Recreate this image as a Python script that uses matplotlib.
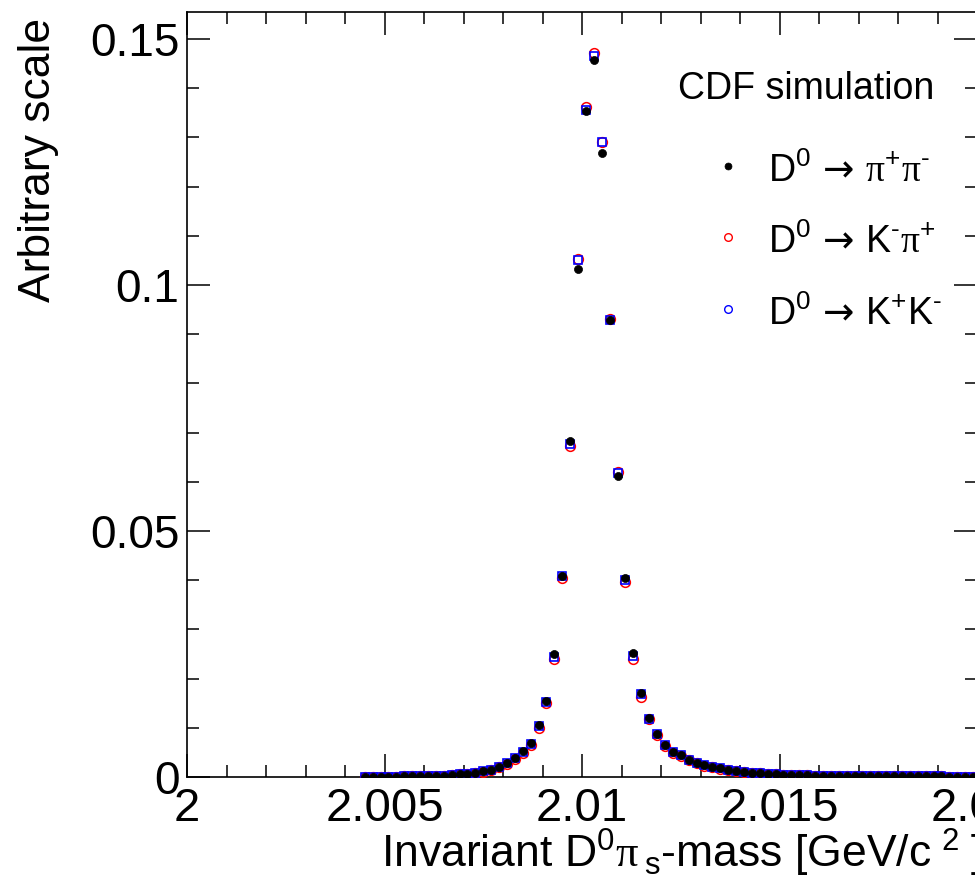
import numpy as np
import matplotlib
matplotlib.use("Agg")
import matplotlib.pyplot as plt

plt.rcParams['font.family'] = ['Liberation Sans', 'DejaVu Sans']
plt.rcParams['mathtext.fontset'] = 'custom'
plt.rcParams['mathtext.rm'] = 'Liberation Sans'
plt.rcParams['mathtext.it'] = 'Liberation Sans:italic'
plt.rcParams['mathtext.bf'] = 'Liberation Serif'
plt.rcParams['mathtext.sf'] = 'DejaVu Sans'

# ---- data ----
bin_first_center = 2.0045
bin_width = 0.0002

kk = [0.0001, 0.0001, 0.0001, 0.0001, 0.0001, 0.00012, 0.00015, 0.0002, 0.00022, 0.00028, 0.0003, 0.0004,
      0.00055, 0.0007, 0.0009, 0.0012, 0.0014, 0.0021, 0.0028, 0.0038, 0.0051, 0.0068,
      0.0103, 0.0153, 0.0243, 0.0409, 0.0677, 0.1051, 0.1356, 0.1465, 0.1291, 0.0929, 0.0618, 0.0400, 0.0246, 0.0168, 0.0118,
      0.0087, 0.0065, 0.0051, 0.0045, 0.0035, 0.0029, 0.0024, 0.0021, 0.0018, 0.0014, 0.0012, 0.0010, 0.0009, 0.00075,
      0.0006, 0.0006, 0.0005, 0.0005, 0.0004, 0.0004, 0.0003, 0.0003, 0.0003, 0.0003,
      0.00025, 0.00025, 0.0002, 0.0002, 0.0002, 0.0002, 0.0002, 0.00018, 0.00015, 0.00015, 0.00015, 0.00012, 0.00012,
      0.0001, 0.0001, 0.0001, 0.0001]

kpi = [0.0001, 0.0001, 0.0001, 0.0001, 0.0001, 0.00012, 0.00015, 0.0002, 0.00022, 0.00027, 0.0003, 0.0004,
       0.00052, 0.0007, 0.0009, 0.0011, 0.0014, 0.0020, 0.0027, 0.0037, 0.0049, 0.0066,
       0.0100, 0.0150, 0.0240, 0.0405, 0.0673, 0.1052, 0.1362, 0.1472, 0.1290, 0.0931, 0.0620, 0.0397, 0.0240, 0.0163, 0.0117,
       0.0085, 0.0063, 0.0049, 0.0043, 0.0034, 0.0028, 0.0023, 0.0020, 0.0017, 0.0014, 0.0012, 0.0010, 0.0009, 0.00075,
       0.0006, 0.0006, 0.0005, 0.0005, 0.0004, 0.0004, 0.0003, 0.0003, 0.0003, 0.0003,
       0.00025, 0.00025, 0.0002, 0.0002, 0.0002, 0.0002, 0.0002, 0.00018, 0.00015, 0.00015, 0.00015, 0.00012, 0.00012,
       0.0001, 0.0001, 0.0001, 0.0001]

pipi = [0.0001, 0.0001, 0.0001, 0.0001, 0.0001, 0.00012, 0.00015, 0.0002, 0.00022, 0.00028, 0.0003, 0.0004,
        0.00055, 0.0007, 0.0009, 0.0012, 0.0014, 0.0021, 0.0028, 0.0038, 0.0052, 0.0069,
        0.0106, 0.0155, 0.0250, 0.0409, 0.0682, 0.1033, 0.1354, 0.1457, 0.1268, 0.0929, 0.0612, 0.0404, 0.0253, 0.0170, 0.0119,
        0.0088, 0.0065, 0.0051, 0.0045, 0.0035, 0.0029, 0.0024, 0.0021, 0.0018, 0.0014, 0.0012, 0.0010, 0.0009, 0.00075,
        0.0006, 0.0006, 0.0005, 0.0005, 0.0004, 0.0004, 0.0003, 0.0003, 0.0003, 0.0003,
        0.00025, 0.00025, 0.0002, 0.0002, 0.0002, 0.0002, 0.0002, 0.00018, 0.00015, 0.00015, 0.00015, 0.00012, 0.00012,
        0.0001, 0.0001, 0.0001, 0.0001]

labels = [r'D$^{0}\,\mathsf{\rightarrow}\,\mathbf{\pi}^{+}\mathbf{\pi}^{\text{-}}$',
          r'D$^{0}\,\mathsf{\rightarrow}\,$K$^{\text{-}}\mathbf{\pi}^{+}$',
          r'D$^{0}\,\mathsf{\rightarrow}\,$K$^{+}$K$^{\text{-}}$']

x_ticks = [2.0, 2.005, 2.01, 2.015, 2.02]
x_ticklabels = ['2', '2.005', '2.01', '2.015', '2.02']
y_ticks = [0, 0.05, 0.1, 0.15]
y_ticklabels = ['0', '0.05', '0.1', '0.15']

x = bin_first_center + bin_width * np.arange(len(kk))

W, H = 975, 881
fig = plt.figure(figsize=(W / 100, H / 100), dpi=100)

def fx(px):
    return px / W

def fy(py):
    return 1 - py / H

ax = fig.add_axes([fx(187), fy(777), (977 - 187) / W, (777 - 12) / H])
ax.set_xlim(2.0, 2.02)
ax.set_ylim(0, 765 / 4920)

ax.plot(x, kpi, linestyle='none', marker='o', ms=7.0, mfc='none', mec='#ff0000', mew=1.1, zorder=3)
ax.plot(x, kk, linestyle='none', marker='s', ms=6.4, mfc='none', mec='#0000ff', mew=1.2, zorder=4)
ax.plot(x, pipi, linestyle='none', marker='o', ms=5.8, mfc='black', mec='black', mew=0.5, zorder=5)

ax.set_xticks(x_ticks)
ax.set_xticklabels(x_ticklabels)
ax.set_yticks(y_ticks)
ax.set_yticklabels(y_ticklabels)
ax.xaxis.set_minor_locator(matplotlib.ticker.MultipleLocator(0.001))
ax.yaxis.set_minor_locator(matplotlib.ticker.MultipleLocator(0.01))
ax.tick_params(which='both', direction='in', top=True, right=True, width=1.1, color='black')
ax.tick_params(which='major', length=16.5)
ax.tick_params(which='minor', length=8.5)
ax.tick_params(axis='x', which='major', pad=7, labelsize=34)
ax.tick_params(axis='y', which='major', pad=5.5, labelsize=33)
for s in ax.spines.values():
    s.set_linewidth(1.2)

# axis titles
fig.text(fx(981), fy(868),
         r'Invariant D$^{0}\mathbf{\pi}\,{}_{\mathrm{s}}$-mass [GeV/c$\;{}^{2}\;$]',
         ha='right', va='baseline', fontsize=32)
fig.text(fx(18), fy(18), 'Arbitrary scale', rotation=90, ha='right', va='top',
         fontsize=32, rotation_mode='anchor')

# legend
fig.text(fx(678), fy(99), 'CDF simulation', ha='left', va='baseline', fontsize=27)
leg_markers = [dict(marker='o', ms=5, mfc='black', mec='black', mew=0.5),
               dict(marker='o', ms=5.5, mfc='none', mec='#ff0000', mew=1.0),
               dict(marker='o', ms=5.5, mfc='none', mec='#0000ff', mew=1.0)]
base_y = [182, 253, 325]
for lab, mk, by in zip(labels, leg_markers, base_y):
    ax.plot([fx(728)], [fy(by - 16)], transform=fig.transFigure, clip_on=False, linestyle='none', **mk)
    fig.text(fx(768), fy(by), lab, ha='left', va='baseline', fontsize=27)

fig.savefig('out.png', dpi=100)
